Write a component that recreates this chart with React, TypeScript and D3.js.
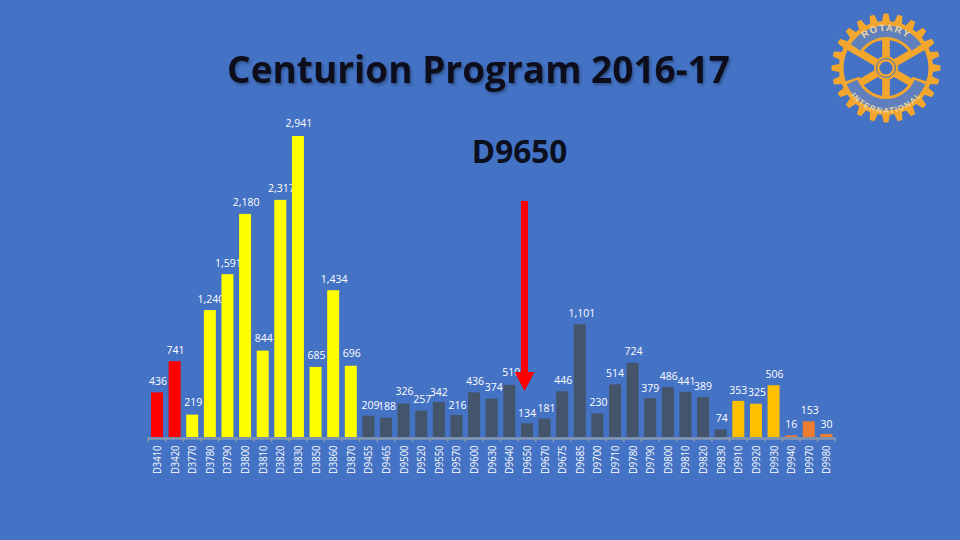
import React from "react";
import * as d3 from "d3";

const districts = ["D3410","D3420","D3770","D3780","D3790","D3800","D3810","D3820","D3830","D3850","D3860","D3870","D9455","D9465","D9500","D9520","D9550","D9570","D9600","D9630","D9640","D9650","D9670","D9675","D9685","D9700","D9710","D9780","D9790","D9800","D9810","D9820","D9830","D9910","D9920","D9930","D9940","D9970","D9980"];
const values = [436,741,219,1240,1591,2180,844,2317,2941,685,1434,696,209,188,326,257,342,216,436,374,510,134,181,446,1101,230,514,724,379,486,441,389,74,353,325,506,16,153,30];
const groups = ["r","r","y","y","y","y","y","y","y","y","y","y","d","d","d","d","d","d","d","d","d","d","d","d","d","d","d","d","d","d","d","d","d","a","a","a","o","o","o"];
// reference label placement, relative to the bar centre and the bar top
const labelDx = [1,1,1,1,1,1,1,1,1,1,1,1,2,1,1,1,0,1,1,2,2,0,2,1,2,1,0,1,0,1,1,0,1,0,1,1,0,1,0];
const labelDy = [-11,-11,-12,-11,-11,-12,-12,-12,-13,-12,-11,-12,-10,-11,-12,-11,-10,-10,-11,-11,-12,-10,-10,-11,-11,-11,-11,-12,-10,-11,-11,-11,-11,-11,-11,-11,-11,-11,-10];

const colors: Record<string, string> = { r: "#FF0000", y: "#FFFF00", d: "#44546A", a: "#FFC000", o: "#ED7D31" };
const W = 960, H = 540;
const x = d3.scaleBand<string>().domain(districts).range([148.2, 835.2]).paddingInner(0.32).paddingOuter(0.16);
const y = d3.scaleLinear().domain([0, 2941]).range([437, 136]);
const baseY = 438.5;

const cx = 886, cy = 68;
const teeth = d3.range(24).map((i) => (i * 360) / 24);
const spokes = [0, 60, 120, 180, 240, 300];
const gold = "#F2A62E";
const band2 = "#5F80BC";
const ringArc = d3.arc<any>();

export default function App() {
  const band = x.bandwidth();
  const gearPts: [number, number][] = [];
  teeth.forEach((t) => {
    const a = (t * Math.PI) / 180, s = (2 * Math.PI) / 24;
    const p = (r: number, o: number): [number, number] => [Math.sin(a + o * s) * r, -Math.cos(a + o * s) * r];
    gearPts.push(p(47, -0.32), p(54.5, -0.17), p(54.5, 0.17), p(47, 0.32));
  });
  const gear = d3.line().curve(d3.curveLinearClosed)(gearPts) as string;
  return (
    <svg width={W} height={H} viewBox={`0 0 ${W} ${H}`} style={{ position: "fixed", left: 0, top: 0, display: "block" }}>
      <defs>
        <path id="arcTop" d="M -33 -16 A 36.5 36.5 0 0 1 33 -16" />
        <path id="arcBot" d="M -37 10 A 38 38 0 0 0 37 10" />
        <filter id="soft" x="-5%" y="-20%" width="110%" height="140%">
          <feDropShadow dx="1.5" dy="2" stdDeviation="1" floodColor="#1F3864" floodOpacity="0.6" />
        </filter>
      </defs>
      <rect width={W} height={H} fill="#4472C4" />

      <g fontFamily="'Open Sans', sans-serif" fontWeight={700} textAnchor="middle">
        <text x={478.5} y={83} fontSize={37} fill="#0B0F1E" filter="url(#soft)">Centurion Program 2016-17</text>
        <text x={519.5} y={163} fontSize={31.5} fill="#0B0F1E">D9650</text>
      </g>

      {values.map((v, i) => (
        <text key={"l" + i} x={x(districts[i])! + band / 2 + labelDx[i]} y={y(v) + labelDy[i]} dy="0.35em" textAnchor="middle" fontFamily="'Open Sans', sans-serif" fontSize={10.5} fill="#FFFFFF">
          {d3.format(",")(v)}
        </text>
      ))}

      {values.map((v, i) => (
        <rect key={"b" + i} x={x(districts[i])} y={y(v)} width={band} height={y(0) - y(v)} fill={colors[groups[i]]} />
      ))}

      <g stroke="#8497B0" fill="none">
        <line x1={x.range()[0] - 1} x2={x.range()[1] + 1} y1={baseY} y2={baseY} strokeWidth={2.5} />
        {d3.range(districts.length + 1).map((i) => {
          const xx = x.range()[0] + i * x.step();
          return <line key={i} x1={xx} x2={xx} y1={baseY} y2={baseY + 3.5} strokeWidth={1.5} />;
        })}
      </g>
      {districts.map((d) => (
        <text key={d} transform={`translate(${x(d)! + band / 2 + 4},474) rotate(-90)`} fontFamily="'Open Sans', sans-serif" fontSize={11} textLength={28.5} lengthAdjust="spacingAndGlyphs" fill="#FFFFFF">
          {d}
        </text>
      ))}

      <path d="M521 201H528V372H534.5L524.5 391L514.5 372H521Z" fill="#FF0000" />

      <g transform={`translate(${cx},${cy})`}>
        <path d={gear} fill={gold} />
        <circle r={42.5} fill="#4472C4" />
        {spokes.map((a) => (
          <rect key={a} x={-3.8} y={-44} width={7.6} height={44} fill={gold} transform={`rotate(${a})`} />
        ))}
        <path d={ringArc({ innerRadius: 28, outerRadius: 44, startAngle: -1.05, endAngle: 1.05 }) as string} fill={gold} />
        <path d={ringArc({ innerRadius: 28, outerRadius: 44, startAngle: Math.PI - 1.25, endAngle: Math.PI + 1.25 }) as string} fill={gold} />
        <path d={ringArc({ innerRadius: 31, outerRadius: 42.5, startAngle: -0.98, endAngle: 0.98 }) as string} fill={band2} />
        <path d={ringArc({ innerRadius: 31, outerRadius: 42.5, startAngle: Math.PI - 1.18, endAngle: Math.PI + 1.18 }) as string} fill={band2} />
        <circle r={12} fill={gold} />
        <circle r={9.5} fill="none" stroke="#4472C4" strokeWidth={1} />
        <circle r={6.5} fill="#4472C4" />
        <text fontFamily="'Liberation Sans', sans-serif" fontSize={9.5} fill="#EAD9A6" letterSpacing={1.4} fontWeight={700}>
          <textPath href="#arcTop" startOffset="50%" textAnchor="middle">ROTARY</textPath>
        </text>
        <text fontFamily="'Liberation Sans', sans-serif" fontSize={8} fill="#EAD9A6" letterSpacing={0.5} fontWeight={700} dominantBaseline="hanging">
          <textPath href="#arcBot" startOffset="50%" textAnchor="middle">INTERNATIONAL</textPath>
        </text>
      </g>
    </svg>
  );
}
